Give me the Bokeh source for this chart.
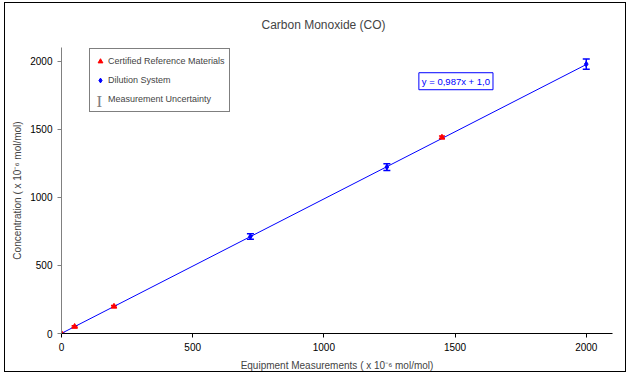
import numpy as np
from bokeh.plotting import figure
from bokeh.models import (ColumnDataSource, Whisker, TeeHead, Legend, LegendItem,
                          Label, Range1d, FixedTicker)
from bokeh.embed import file_html
from bokeh.resources import INLINE

# --- data ---
crm_x = [0, 50, 200, 1450]
crm_y = [0, 50, 198, 1440]
crm_err = [6, 6, 8, 10]

dil_x = [720, 1240, 2000]
dil_y = [712, 1222, 1978]
dil_err = [20, 25, 38]

slope = 0.987
intercept = 1.0
fit_x = [0, 2000]
ticks = [0, 500, 1000, 1500, 2000]
title_text = "Carbon Monoxide (CO)"

FONT = "Liberation Sans"
X_MAX, Y_MAX = 2100, 2100
W, H = 622, 370
BL, BR, BT, BB = 56, 15, 44, 32
FW, FH = W - BL - BR, H - BT - BB   # frame size in px
sx = X_MAX / FW                      # data units per px
sy = Y_MAX / FH

p = figure(width=W, height=H, output_backend="svg", toolbar_location=None,
           x_range=Range1d(0, X_MAX), y_range=Range1d(0, Y_MAX),
           min_border_left=BL, min_border_right=BR, min_border_top=BT, min_border_bottom=BB)
p.styles = {"border": "1px solid black", "margin": "2px 4px"}
p.outline_line_color = None
p.xgrid.grid_line_color = None
p.ygrid.grid_line_color = None

p.title.text = title_text
p.title.align = "left"
p.title.offset = 200
p.title.vertical_align = "top"
p.title.standoff = 28
p.title.text_font = FONT
p.title.text_font_size = "12px"
p.title.text_font_style = "normal"

for ax in (p.xaxis[0], p.yaxis[0]):
    ax.ticker = FixedTicker(ticks=ticks)
    ax.major_label_text_font = FONT
    ax.major_label_text_font_size = "10px"
    ax.major_label_text_color = "black"
    ax.axis_label_text_font = FONT
    ax.axis_label_text_font_size = "10px"
    ax.axis_label_text_font_style = "normal"
    ax.major_tick_in = 0
    ax.major_tick_out = 4
    ax.minor_tick_line_color = None
    ax.major_tick_line_color = "black"
    ax.axis_line_color = "black"
p.yaxis[0].axis_line_color = "#808080"
p.yaxis[0].major_tick_line_color = "#808080"
p.xaxis[0].axis_label = "Equipment Measurements ( x 10\u207b\u2076 mol/mol)"
p.yaxis[0].axis_label = "Concentration ( x 10\u207b\u2076 mol/mol)"
p.xaxis[0].axis_label_standoff = 6
p.yaxis[0].axis_label_standoff = 4

# regression line
fit_y = [slope * x + intercept for x in fit_x]
p.line(fit_x, fit_y, line_color="blue", line_width=1)

crm_src = ColumnDataSource(dict(x=crm_x, y=crm_y,
                                lo=[a - b for a, b in zip(crm_y, crm_err)],
                                hi=[a + b for a, b in zip(crm_y, crm_err)]))
dil_src = ColumnDataSource(dict(x=dil_x, y=dil_y,
                                lo=[a - b for a, b in zip(dil_y, dil_err)],
                                hi=[a + b for a, b in zip(dil_y, dil_err)]))

p.add_layout(Whisker(source=dil_src, base="x", upper="hi", lower="lo", line_color="blue",
                     line_width=1.5,
                     upper_head=TeeHead(size=7, line_color="blue", line_width=1.5),
                     lower_head=TeeHead(size=7, line_color="blue", line_width=1.5)))
p.add_layout(Whisker(source=crm_src, base="x", upper="hi", lower="lo", line_color="red",
                     line_width=1.5,
                     upper_head=TeeHead(size=6, line_color="red", line_width=1.5),
                     lower_head=TeeHead(size=6, line_color="red", line_width=1.5)))

r_crm = p.scatter("x", "y", source=crm_src, marker="triangle", size=5.5,
                  fill_color="red", line_color="red")
r_dil = p.scatter("x", "y", source=dil_src, marker="diamond", size=5.5,
                  fill_color="blue", line_color="blue")
# legend-only renderer for the uncertainty entry (its symbol is drawn by a Label below)
r_unc = p.text(x=[], y=[], text=[])

LEG_X, LEG_Y, PAD, GW, LH, SP = 28, 221, 4, 12, 16, 3
legend = Legend(items=[
    LegendItem(label="Certified Reference Materials", renderers=[r_crm]),
    LegendItem(label="Dilution System", renderers=[r_dil]),
    LegendItem(label="Measurement Uncertainty", renderers=[r_unc]),
], location=(LEG_X, LEG_Y))
legend.label_text_font = FONT
legend.label_text_font_size = "9px"
legend.border_line_color = "black"
legend.border_line_width = 1
legend.background_fill_alpha = 0
legend.glyph_width = GW
legend.glyph_height = LH
legend.label_height = LH
legend.spacing = SP
legend.padding = PAD
legend.margin = 0
legend.label_standoff = 2
p.add_layout(legend, "center")

# "I" symbol for the uncertainty legend entry
p.add_layout(Label(x=(LEG_X + PAD + GW / 2 - 3) * sx, y=(LEG_Y + PAD + LH / 2 - 4) * sy,
                   text="I", text_font="Liberation Serif",
                   text_font_size="17px", text_color="#808080"))

eq = Label(x=1362, y=1790, text="y = 0,987x + 1,0", text_color="blue",
           text_font=FONT, text_font_size="9.5px",
           border_line_color="blue", border_line_width=1,
           background_fill_color="white", padding=3)
p.add_layout(eq)

open("out.html", "w").write(file_html(p, INLINE))
